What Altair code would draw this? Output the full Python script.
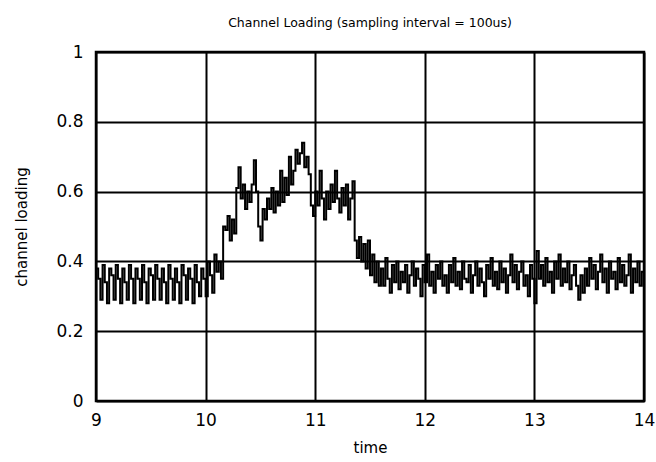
import altair as alt
import pandas as pd

# sampling grid
t_start = 9.0
t_step = 0.02

# channel loading values (one per sample)
load_09_10 = [
    0.38, 0.35, 0.29, 0.39, 0.34, 0.28, 0.38, 0.36, 0.29, 0.39,
    0.35, 0.28, 0.38, 0.34, 0.29, 0.39, 0.35, 0.28, 0.38, 0.35,
    0.29, 0.39, 0.34, 0.28, 0.38, 0.36, 0.29, 0.39, 0.35, 0.29,
    0.38, 0.34, 0.28, 0.39, 0.35, 0.29, 0.38, 0.34, 0.28, 0.39,
    0.36, 0.29, 0.38, 0.35, 0.28, 0.39, 0.34, 0.30, 0.38, 0.35,
]
load_10_116 = [
    0.30, 0.40, 0.36, 0.31, 0.42, 0.37, 0.40, 0.35, 0.50, 0.49,
    0.53, 0.46, 0.52, 0.48, 0.61, 0.67, 0.58, 0.62, 0.55, 0.60,
    0.57, 0.62, 0.69, 0.60, 0.50, 0.46, 0.55, 0.52, 0.58, 0.55,
    0.61, 0.54, 0.60, 0.56, 0.66, 0.57, 0.64, 0.59, 0.70, 0.62,
    0.66, 0.72, 0.68, 0.71, 0.74, 0.67, 0.70, 0.65, 0.56, 0.53,
    0.60, 0.56, 0.66, 0.58, 0.52, 0.60, 0.55, 0.62, 0.57, 0.66,
    0.58, 0.54, 0.61, 0.56, 0.62, 0.52, 0.58, 0.63, 0.46, 0.41,
    0.47, 0.40, 0.45, 0.38, 0.46, 0.36, 0.42, 0.34, 0.40, 0.33,
]
load_116_14 = [
    0.38, 0.33, 0.41, 0.35, 0.31, 0.39, 0.34, 0.40, 0.32, 0.37,
    0.34, 0.39, 0.31, 0.36, 0.40, 0.33, 0.38, 0.35, 0.30, 0.39,
    0.34, 0.42, 0.33, 0.37, 0.31, 0.39, 0.35, 0.40, 0.33, 0.36,
    0.31, 0.39, 0.34, 0.41, 0.33, 0.37, 0.32, 0.40, 0.35, 0.34,
    0.39, 0.31, 0.36, 0.40, 0.33, 0.38, 0.34, 0.30, 0.39, 0.35,
    0.41, 0.33, 0.37, 0.32, 0.40, 0.34, 0.38, 0.31, 0.36, 0.42,
    0.34, 0.39, 0.32, 0.37, 0.40, 0.33, 0.36, 0.30, 0.39, 0.35,
    0.28, 0.43, 0.35, 0.39, 0.33, 0.41, 0.34, 0.37, 0.31, 0.40,
    0.35, 0.42, 0.33, 0.38, 0.34, 0.40, 0.32, 0.36, 0.39, 0.33,
    0.29, 0.36, 0.31, 0.38, 0.33, 0.41, 0.35, 0.39, 0.32, 0.37,
    0.42, 0.34, 0.38, 0.31, 0.40, 0.35, 0.37, 0.32, 0.41, 0.34,
    0.39, 0.33, 0.36, 0.42, 0.31, 0.38, 0.34, 0.40, 0.33, 0.37,
    0.35,
]

values = load_09_10 + load_10_116 + load_116_14
times = [round(t_start + i * t_step, 4) for i in range(len(values))]
df = pd.DataFrame({"time": times, "load": values})

x_ticks = [9, 10, 11, 12, 13, 14]
y_ticks = [0, 0.2, 0.4, 0.6, 0.8, 1]

FONT = "DejaVu Sans"

chart = (
    alt.Chart(df)
    .mark_line(interpolate="step-after", color="black", strokeWidth=2)
    .encode(
        x=alt.X(
            "time:Q",
            scale=alt.Scale(domain=[9, 14], nice=False),
            axis=alt.Axis(
                values=x_ticks, title="time", format="~g",
                ticks=False, domain=False, labelPadding=11, titlePadding=12,
                labelFlush=False,
                grid=True, gridColor="black", gridWidth=2, gridOpacity=1,
                labelFont=FONT, labelFontSize=17, labelColor="black",
                titleFont=FONT, titleFontSize=15, titleFontWeight="normal", titleColor="black",
            ),
        ),
        y=alt.Y(
            "load:Q",
            scale=alt.Scale(domain=[0, 1], nice=False),
            axis=alt.Axis(
                values=y_ticks, title="channel loading", format="~g",
                ticks=False, domain=False, labelPadding=13, titlePadding=26,
                labelFlush=False,
                grid=True, gridColor="black", gridWidth=2, gridOpacity=1,
                labelFont=FONT, labelFontSize=17, labelColor="black",
                titleFont=FONT, titleFontSize=15, titleFontWeight="normal", titleColor="black",
            ),
        ),
    )
    .properties(
        width=548,
        height=349,
        background="white",
        title=alt.TitleParams(
            "Channel Loading (sampling interval = 100us)",
            font=FONT, fontSize=12.5, fontWeight="normal", color="black",
            offset=14, anchor="middle",
        ),
        autosize=alt.AutoSizeParams(type="none"),
        padding={"left": 96, "top": 52, "right": 12, "bottom": 61},
    )
    .configure_view(stroke="black", strokeWidth=2.5)
)

chart.save("out.html", embed_options={"renderer": "svg", "actions": False})
